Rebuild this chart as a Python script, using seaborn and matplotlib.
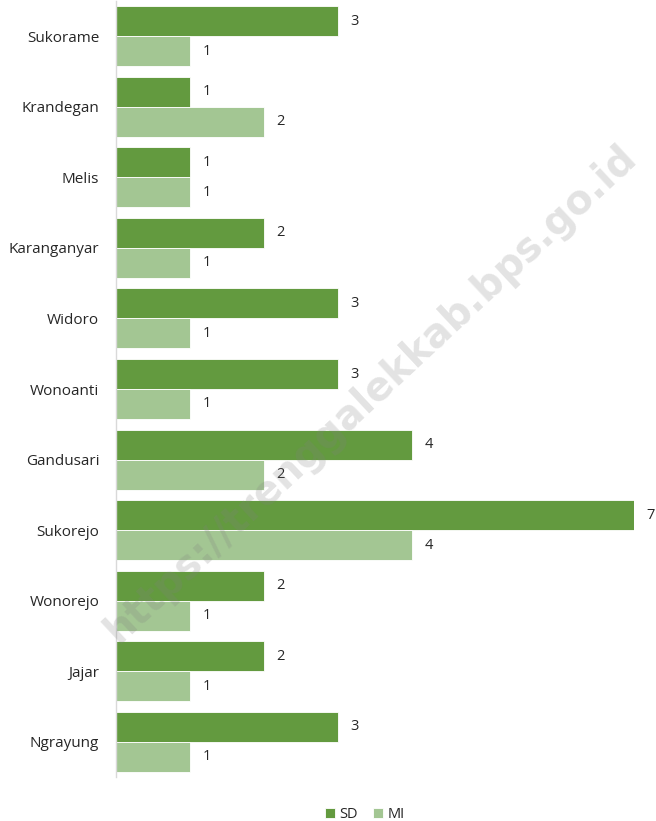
import matplotlib
matplotlib.use("Agg")
import matplotlib.pyplot as plt
import seaborn as sns
import pandas as pd

categories = ["Sukorame", "Krandegan", "Melis", "Karanganyar", "Widoro", "Wonoanti",
              "Gandusari", "Sukorejo", "Wonorejo", "Jajar", "Ngrayung"]
sd = [3, 1, 1, 2, 3, 3, 4, 7, 2, 2, 3]
mi = [1, 2, 1, 1, 1, 1, 2, 4, 1, 1, 1]
series = ["SD", "MI"]
colors = ["#639A3F", "#A3C693"]

df = pd.DataFrame({
    "Desa": categories * 2,
    "Jumlah": sd + mi,
    "Jenis": ["SD"] * len(categories) + ["MI"] * len(categories),
})

sns.set_style("white")
plt.rcParams["font.family"] = ["Open Sans", "DejaVu Sans"]

fig = plt.figure(figsize=(6.56, 8.21), dpi=100)
ax = fig.add_axes([116 / 656, 1 - 777 / 821, (634 - 116) / 656, 776 / 821])

sns.barplot(data=df, y="Desa", x="Jumlah", hue="Jenis", order=categories,
            hue_order=series, palette=colors, saturation=1, orient="h", width=0.85,
            edgecolor="white", linewidth=0.6, ax=ax, legend=True)

ax.set_xlim(0, 7)
ax.set_ylim(len(categories) - 0.5, -0.5)
ax.set_xlabel("")
ax.set_ylabel("")
ax.set_xticks([])
ax.tick_params(axis="y", length=0, pad=12, labelsize=11, labelcolor="#262626")
for s in ["top", "right", "bottom"]:
    ax.spines[s].set_visible(False)
ax.spines["left"].set_color("#d9d9d9")
ax.spines["left"].set_linewidth(1)

for cont in ax.containers:
    ax.bar_label(cont, padding=9, fontsize=10.5, color="#262626", clip_on=False)

leg = ax.legend(loc="center", bbox_to_anchor=(0.48, -0.048), ncol=2,
                frameon=False, fontsize=10.5, handlelength=0.7, handleheight=0.7,
                handletextpad=0.3, columnspacing=1.0)

fig.text(0.565, 0.52, "https://trenggalekkab.bps.go.id", rotation=43,
         ha="center", va="center", fontsize=28.5, fontweight="bold",
         color="#808080", alpha=0.22, family=["DejaVu Sans"])

fig.savefig("out.png", dpi=100)
